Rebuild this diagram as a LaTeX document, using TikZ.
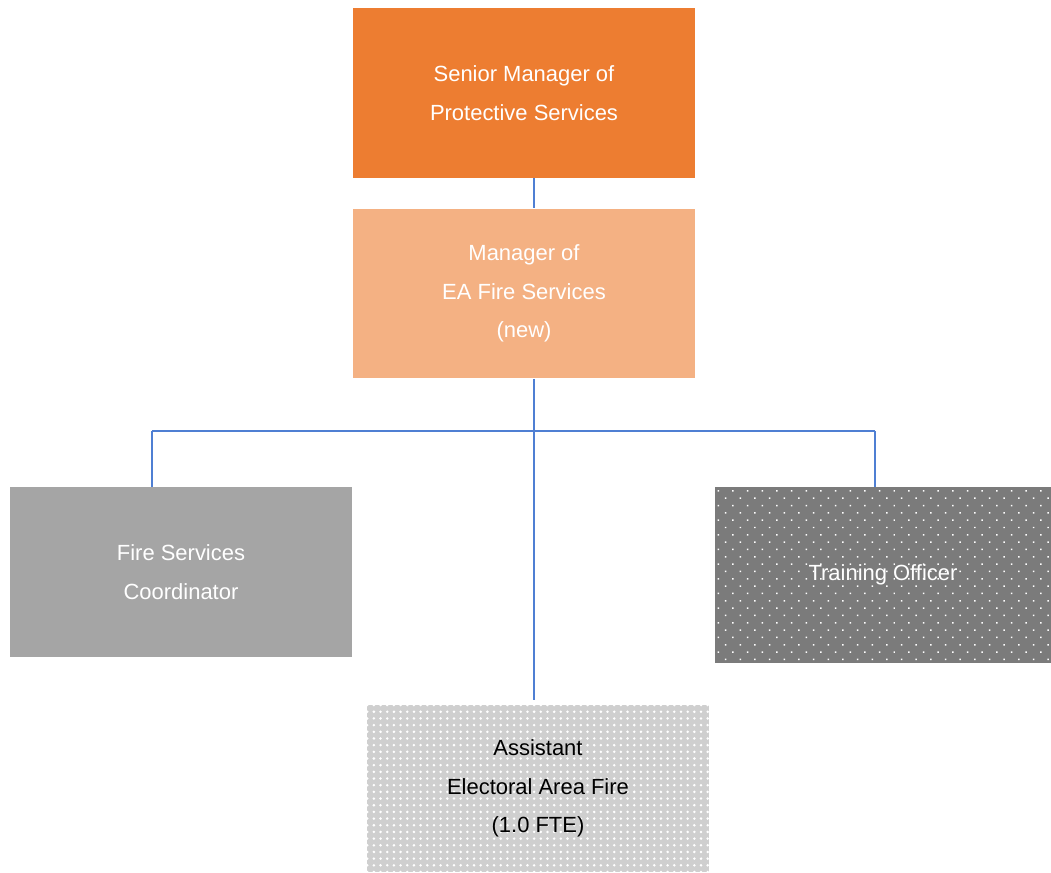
\documentclass[tikz,border=0pt]{standalone}
\usepackage{fontspec}
\setmainfont{Liberation Sans}
\usetikzlibrary{patterns.meta}
\definecolor{seniorfill}{HTML}{ED7D31}
\definecolor{managerfill}{HTML}{F4B183}
\definecolor{coordfill}{HTML}{A5A5A5}
\definecolor{trainfill}{HTML}{7B7B7B}
\definecolor{assistfill}{HTML}{CFCFCF}
\definecolor{linkblue}{HTML}{4F7FD3}
\begin{document}
\begin{tikzpicture}[
  x=0.02cm, y=-0.02cm,
  box/.style={rectangle, minimum width=6.84cm, minimum height=3.4cm, inner sep=0pt,
    align=center, text=white, font=\fontsize{12.5}{22}\selectfont},
  link/.style={draw=linkblue, line width=1.1pt}
]
\useasboundingbox (0,0) rectangle (1051,872);

% Top level
\node[box, fill=seniorfill] (senior) at (524,93) {Senior Manager of\\Protective Services};
\node[box, fill=managerfill] (manager) at (524,293.5) {Manager of\\EA Fire Services\\(new)};

% Reports
\node[box, fill=coordfill] (coord) at (181,572) {Fire Services\\Coordinator};
\node[box, minimum width=6.72cm, minimum height=3.52cm, fill=trainfill,
  postaction={pattern={Dots[distance=5.9pt, angle=45, radius=0.6pt]}, pattern color=white}]
  (train) at (883,575) {Training Officer};
\node[box, minimum height=3.34cm, fill=assistfill, text=black,
  postaction={pattern={Dots[distance=3.8pt, radius=0.8pt]}, pattern color=white}]
  (assist) at (538,788.5) {Assistant\\Electoral Area Fire\\(1.0 FTE)};

% Connectors
\coordinate (bus) at (534,431);
\coordinate (busL) at (152,431);
\coordinate (busR) at (875,431);
\draw[link] (senior.south -| bus) -- (manager.north -| bus);
\draw[link] (manager.south -| bus) -- ([yshift=0.1cm]assist.north -| bus);
\draw[link] (busL) -- (busR);
\draw[link] (busL) -- (coord.north -| busL);
\draw[link] (busR) -- (train.north -| busR);

\end{tikzpicture}
\end{document}
